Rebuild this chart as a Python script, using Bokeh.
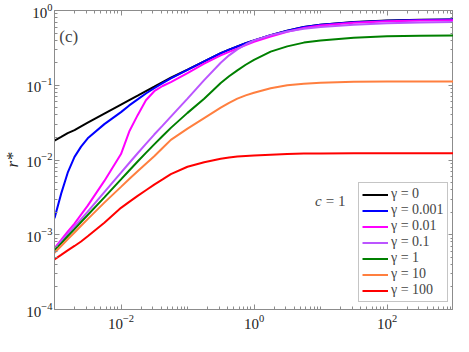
from bokeh.plotting import figure
from bokeh.models import FixedTicker, LogAxis, Label, Legend, LegendItem, CustomJSTickFormatter
from bokeh.embed import file_html
from bokeh.resources import INLINE

omega = [0.001, 0.00126, 0.00158, 0.002, 0.00251, 0.00316, 0.00562, 0.01, 0.0133,
         0.0178, 0.0237, 0.0316, 0.0422, 0.0562, 0.1, 0.178, 0.316, 0.422, 0.562,
         0.750, 1.0, 1.78, 3.16, 5.62, 10.0, 31.6, 100.0, 316.0, 1000.0]

r_g0 = [0.0182, 0.0204, 0.0229, 0.0251, 0.0282, 0.0316, 0.0417, 0.0550, 0.0631,
        0.0724, 0.0832, 0.0955, 0.110, 0.126, 0.162, 0.209, 0.269, 0.300, 0.331,
        0.365, 0.398, 0.468, 0.537, 0.603, 0.646, 0.700, 0.733, 0.750, 0.759]
r_g0001 = [0.00166, 0.00355, 0.00676, 0.0110, 0.0151, 0.0195, 0.0302, 0.0437, 0.0537,
           0.0646, 0.0776, 0.0912, 0.107, 0.124, 0.161, 0.208, 0.268, 0.299, 0.330,
           0.364, 0.397, 0.467, 0.536, 0.602, 0.645, 0.699, 0.732, 0.749, 0.758]
r_g001 = [0.000661, 0.000851, 0.00110, 0.00141, 0.00186, 0.00245, 0.00525, 0.0120,
          0.0240, 0.0398, 0.0631, 0.0832, 0.0977, 0.110, 0.145, 0.195, 0.251, 0.280,
          0.309, 0.344, 0.380, 0.447, 0.519, 0.582, 0.631, 0.684, 0.716, 0.733, 0.741]
r_g01 = [0.000646, 0.000813, 0.00102, 0.00129, 0.00162, 0.00204, 0.00372, 0.00676,
         0.00912, 0.0123, 0.0164, 0.0219, 0.0288, 0.0380, 0.0661, 0.117, 0.200, 0.251,
         0.302, 0.351, 0.398, 0.468, 0.525, 0.569, 0.603, 0.646, 0.676, 0.692, 0.700]
r_g1 = [0.000617, 0.000767, 0.000955, 0.00119, 0.00148, 0.00184, 0.00316, 0.00550,
        0.00724, 0.00955, 0.01245, 0.0162, 0.0209, 0.0269, 0.0427, 0.0661, 0.107,
        0.132, 0.158, 0.188, 0.219, 0.282, 0.331, 0.372, 0.398, 0.432, 0.452, 0.460,
        0.463]
r_g10 = [0.000575, 0.000708, 0.000871, 0.00107, 0.00132, 0.00162, 0.00269, 0.00437,
         0.00556, 0.00708, 0.00891, 0.0112, 0.0145, 0.0186, 0.0263, 0.0363, 0.0501,
         0.0582, 0.0661, 0.0733, 0.0794, 0.0912, 0.100, 0.105, 0.108, 0.111, 0.112,
         0.112, 0.112]
r_g100 = [0.000468, 0.000537, 0.000617, 0.000708, 0.000813, 0.000955, 0.00145, 0.00229,
          0.00275, 0.00331, 0.00394, 0.00468, 0.00550, 0.00646, 0.00813, 0.00933,
          0.0104, 0.0108, 0.0111, 0.0113, 0.0115, 0.0118, 0.0120, 0.0122, 0.0122,
          0.0123, 0.0123, 0.0123, 0.0123]

series = [r_g0, r_g0001, r_g001, r_g01, r_g1, r_g10, r_g100]
labels = ["γ = 0", "γ = 0.001", "γ = 0.01", "γ = 0.1", "γ = 1", "γ = 10", "γ = 100"]
colors = ["#000000", "#0000ff", "#ff00ff", "#bb55ff", "#008000", "#ff7f3f", "#ff0000"]

x_major = [1e-2, 1.0, 1e2]
y_major = [1e-4, 1e-3, 1e-2, 1e-1, 1.0]

FONT = "serif"
AX = "#8c8c8c"

p = figure(width=453, height=352, x_axis_type="log", y_axis_type="log",
           x_range=(1e-3, 1e3), y_range=(1e-4, 1.0),
           output_backend="svg", toolbar_location=None,
           min_border_left=0, min_border_right=0, min_border_top=10, min_border_bottom=43)
p.grid.visible = False
p.outline_line_color = AX
p.background_fill_color = "white"

x_minor = [m * 10.0 ** e for e in range(-3, 3) for m in range(1, 10)] + [1e3]
y_minor = [m * 10.0 ** e for e in range(-4, 0) for m in range(1, 10)]

def style(ax, ticks, minor):
    ax.ticker = FixedTicker(ticks=ticks, minor_ticks=minor)
    ax.axis_line_color = AX
    ax.major_tick_line_color = AX
    ax.minor_tick_line_color = AX
    ax.major_tick_in = 5
    ax.major_tick_out = 0
    ax.minor_tick_in = 3
    ax.minor_tick_out = 0
    ax.major_label_text_font = FONT
    ax.major_label_text_font_size = "15px"
    ax.major_label_text_color = "#222222"
    ax.axis_label_text_font = FONT
    ax.axis_label_text_font_size = "17px"
    ax.axis_label_text_font_style = "italic"
    ax.axis_label_text_color = "#222222"

style(p.xaxis[0], x_major, x_minor)
style(p.yaxis[0], y_major, y_minor)
p.yaxis[0].axis_label = "r*"
p.xaxis[0].major_label_standoff = 5
p.yaxis[0].major_label_standoff = 2
p.yaxis[0].axis_label_standoff = 1

top = LogAxis()
right = LogAxis()
style(top, x_major, x_minor)
style(right, y_major, y_minor)
for ax in (top, right):
    ax.formatter = CustomJSTickFormatter(code="return '';")
    ax.major_label_standoff = 0
p.add_layout(top, "above")
p.add_layout(right, "right")

items = []
for vals, lab, col in zip(series, labels, colors):
    r = p.line(omega, vals, line_color=col, line_width=2)
    items.append(LegendItem(label=lab, renderers=[r]))

legend = Legend(items=items, location=(304, 7))
legend.label_text_font = FONT
legend.label_text_font_size = "14px"
legend.label_height = 13
legend.glyph_height = 13
legend.glyph_width = 26
legend.spacing = 0
legend.padding = 3
legend.margin = 0
legend.label_standoff = 3
legend.border_line_color = AX
legend.border_line_width = 1
legend.background_fill_alpha = 1
p.add_layout(legend, "center")

p.add_layout(Label(x=8.3, y=0.0028, text="c", text_font=FONT, text_font_style="italic",
                   text_font_size="15px", text_baseline="middle"))
p.add_layout(Label(x=12.0, y=0.0028, text="= 1", text_font=FONT,
                   text_font_size="15px", text_baseline="middle"))
p.add_layout(Label(x=0.00118, y=0.45, text="(c)", text_font=FONT,
                   text_font_size="17px", text_baseline="middle"))
p.add_layout(Label(x=1.0, y=3.9e-5, text="ω", text_font=FONT, text_font_style="italic",
                   text_font_size="17px", text_align="center", text_baseline="middle",
                   text_color="#222222"))

open("out.html", "w").write(file_html(p, INLINE))
